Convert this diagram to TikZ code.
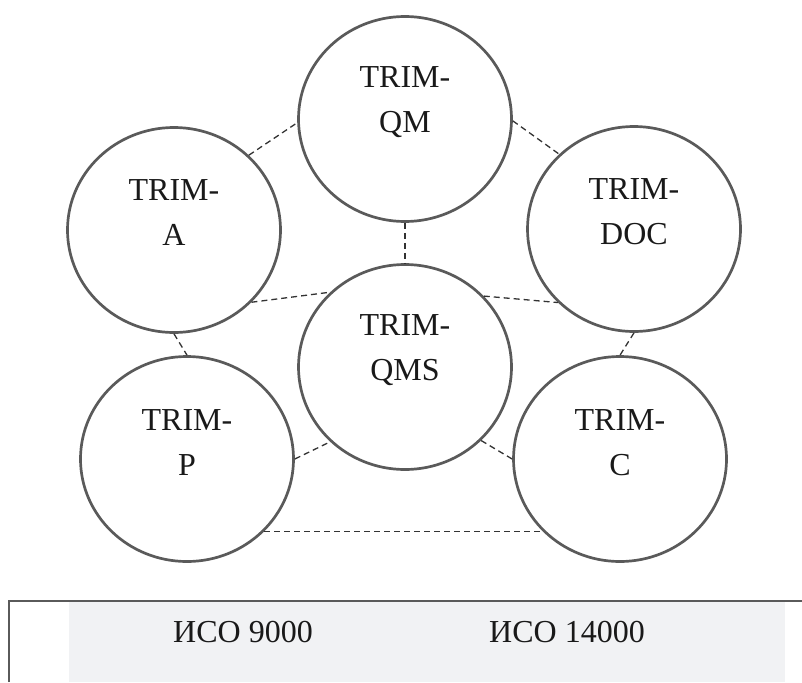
\documentclass[tikz,border=0pt]{standalone}
\usepackage{fontspec}
\setmainfont{Liberation Serif}
\usetikzlibrary{shapes.geometric}
\definecolor{ringgray}{HTML}{5A5A5A}
\definecolor{isofill}{HTML}{F1F2F4}
\tikzset{
  unit/.style={ellipse, draw=ringgray, line width=2.7pt, minimum width=213pt, minimum height=205pt, inner sep=0pt},
  unitname/.style={align=center, text=black!90, font=\fontsize{32}{45}\selectfont},
  isotext/.style={text=black!90, font=\fontsize{32}{38}\selectfont},
  link/.style={draw=black!80, line width=1.3pt, dash pattern=on 6pt off 4pt},
}
\begin{document}
\begin{tikzpicture}[x=1pt,y=-1pt]
\useasboundingbox (0,0) rectangle (802,682);
% the six TRIM modules
\node[unit] (qm) at (405,119) {};
\node[unit] (a) at (174,230) {};
\node[unit] (doc) at (634,229) {};
\node[unit] (qms) at (405,367) {};
\node[unit] (p) at (187,459) {};
\node[unit] (c) at (620,459) {};
\node[unitname] (qmname) at ([yshift=17pt]qm.center) {TRIM-\\QM};
\node[unitname] (aname) at ([yshift=17pt]a.center) {TRIM-\\A};
\node[unitname] (docname) at ([yshift=17pt]doc.center) {TRIM-\\DOC};
\node[unitname] (qmsname) at ([yshift=17pt]qms.center) {TRIM-\\QMS};
\node[unitname] (pname) at ([yshift=16pt]p.center) {TRIM-\\P};
\node[unitname] (cname) at ([yshift=16pt]c.center) {TRIM-\\C};
% dashed links
\draw[link] (a.45) -- (qm.182);
\draw[link] (qm.-1) -- (doc.135);
\draw[link] (qm.270) -- (qms.90);
\draw[link] (a.317) -- (qms.135);
\draw[link] (qms.42) -- (doc.224);
\draw[link] (a.270) -- (p.90);
\draw[link] (doc.270) -- (c.90);
\draw[link] (p.0) -- (qms.225);
\draw[link] (qms.316) -- (c.180);
\draw[link] (p.317) -- (c.223);
% standards strip
\fill[isofill] (69,601) rectangle (785,682);
\draw[ringgray, line width=2.2pt] (9,682) -- (9,601) -- (802,601);
\node[isotext] (iso9) at (243,632) {ИСО 9000};
\node[isotext] (iso14) at (567,632) {ИСО 14000};
\end{tikzpicture}
\end{document}
